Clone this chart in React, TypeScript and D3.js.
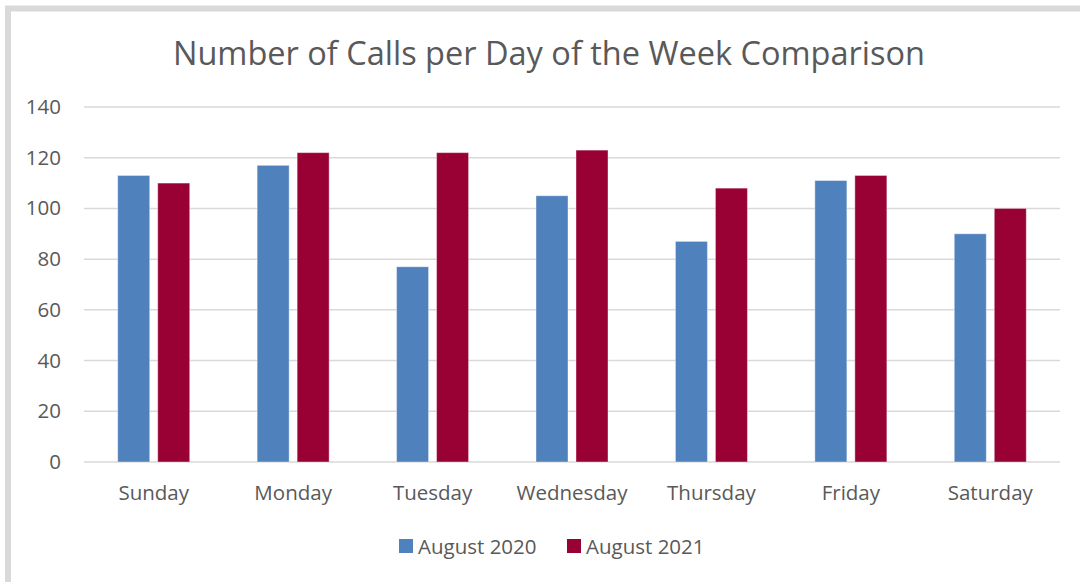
import React, { useEffect, useRef } from "react";
import * as d3 from "d3";

const days = ["Sunday", "Monday", "Tuesday", "Wednesday", "Thursday", "Friday", "Saturday"];
const aug2020 = [113, 117, 77, 105, 87, 111, 90];
const aug2021 = [110, 122, 122, 123, 108, 113, 100];
const seriesNames = ["August 2020", "August 2021"];
const yTicks = [0, 20, 40, 60, 80, 100, 120, 140];

const colors = ["#4f81bd", "#990033"];
const font = "'Open Sans', sans-serif";

const App = () => {
  const ref = useRef<SVGSVGElement>(null);

  useEffect(() => {
    const svg = d3.select(ref.current);
    svg.selectAll("*").remove();

    const width = 1080;
    const height = 582;
    const left = 84;
    const right = 1060;
    const top = 107;
    const bottom = 462;

    // outer frame, runs off the right and bottom edges
    svg
      .append("rect")
      .attr("x", 8)
      .attr("y", 8.5)
      .attr("width", width + 20)
      .attr("height", height + 20)
      .attr("fill", "#fff")
      .attr("stroke", "#d9d9d9")
      .attr("stroke-width", 6);

    svg
      .append("text")
      .attr("x", 549)
      .attr("y", 65)
      .attr("text-anchor", "middle")
      .attr("font-family", font)
      .attr("font-size", 32.5)
      .attr("fill", "#595959")
      .text("Number of Calls per Day of the Week Comparison");

    const x = d3.scaleBand().domain(days).range([left, right]);
    const y = d3.scaleLinear().domain([0, 140]).range([bottom, top]);
    const inner = d3.scaleBand().domain(seriesNames).range([0, 72]).paddingInner(0.2);

    const grid = svg.append("g");
    grid
      .selectAll("line")
      .data(yTicks)
      .enter()
      .append("line")
      .attr("x1", left)
      .attr("x2", right)
      .attr("y1", (d) => y(d))
      .attr("y2", (d) => y(d))
      .attr("stroke", "#d9d9d9")
      .attr("stroke-width", 1.5);

    grid
      .selectAll("text")
      .data(yTicks)
      .enter()
      .append("text")
      .attr("x", 61)
      .attr("y", (d) => y(d) + 7)
      .attr("text-anchor", "end")
      .attr("font-family", font)
      .attr("font-size", 20.5)
      .attr("fill", "#595959")
      .text((d) => d);

    const series = [aug2020, aug2021];
    series.forEach((vals, s) => {
      svg
        .append("g")
        .selectAll("rect")
        .data(vals)
        .enter()
        .append("rect")
        .attr("x", (d, i) => x(days[i])! + x.bandwidth() / 2 - 36 + inner(seriesNames[s])!)
        .attr("y", (d) => y(d))
        .attr("width", inner.bandwidth())
        .attr("height", (d) => bottom - y(d))
        .attr("fill", colors[s])
        .attr("stroke", "#fff")
        .attr("stroke-opacity", 0.4)
        .attr("stroke-width", 1);
    });

    svg
      .append("g")
      .selectAll("text")
      .data(days)
      .enter()
      .append("text")
      .attr("x", (d) => x(d)! + x.bandwidth() / 2)
      .attr("y", 500)
      .attr("text-anchor", "middle")
      .attr("font-family", font)
      .attr("font-size", 20.5)
      .attr("fill", "#595959")
      .text((d) => d);

    const legendX = [399, 567];
    seriesNames.forEach((name, s) => {
      svg
        .append("rect")
        .attr("x", legendX[s])
        .attr("y", 539)
        .attr("width", 14)
        .attr("height", 14)
        .attr("fill", colors[s]);
      svg
        .append("text")
        .attr("x", legendX[s] + 19)
        .attr("y", 554)
        .attr("font-family", font)
        .attr("font-size", 20.5)
        .attr("fill", "#595959")
        .text(name);
    });
  });

  return (
    <svg
      ref={ref}
      width={1080}
      height={582}
      style={{ position: "absolute", left: 0, top: 0, background: "#fff" }}
    />
  );
};

export default App;
